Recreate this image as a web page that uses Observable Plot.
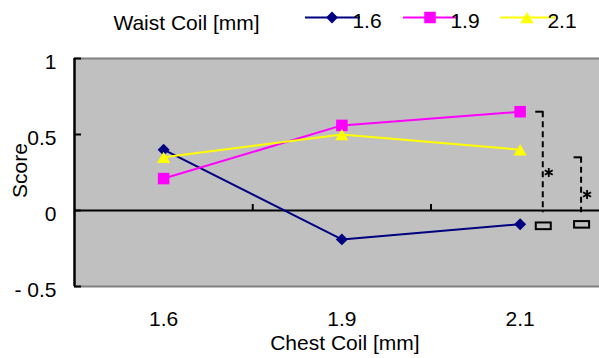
<!DOCTYPE html>
<html>
<head>
<meta charset="utf-8">
<script src="https://cdn.jsdelivr.net/npm/d3@7"></script>
<script src="https://cdn.jsdelivr.net/npm/@observablehq/plot@0.6"></script>
<style>
  body { margin: 0; background: #fff; }
  #chart svg { display: block; }
</style>
</head>
<body>
<div id="chart"></div>
<script>
// ---- data ----
const chestCoil = ["1.6", "1.9", "2.1"];          // x categories
const waistCoil = ["1.6", "1.9", "2.1"];          // series
const scoreWaist16 = [0.40, -0.19, -0.09];
const scoreWaist19 = [0.21, 0.56, 0.65];
const scoreWaist21 = [0.35, 0.50, 0.40];
const yTicks = [-0.5, 0, 0.5, 1];
const yTickLabels = ["- 0.5", "0", "0.5", "1"];
// significance brackets (x in category units, y in score units)
const sigX = [2.127, 2.342];
const sigTop = [0.65, 0.35];
const sigStarY = [0.25, 0.105];
const sigBoxTop = [-0.082, -0.073];
const sigBoxBottom = [-0.126, -0.116];

// ---- build table ----
const seriesValues = [scoreWaist16, scoreWaist19, scoreWaist21];
const rows = [];
waistCoil.forEach((s, si) => seriesValues[si].forEach((v, i) => rows.push({series: s, xi: i, score: v})));
const sigIdx = sigX.map((_, i) => i);

// ---- style ----
const FONT = "'Liberation Sans', Arial, sans-serif";
const FS = 21;
const colors = ["#000080", "#ff00ff", "#ffff00"];
const symbols = ["diamond2", "square", "triangle"];
const radii = [5.4, 6.5, 4.9];

const W = 599, H = 358, mL = 74, mT = 58, mB = 72;
const pxX = 178.25;
const xMax = -0.5 + (W - mL) / pxX;
const pxY = (H - mT - mB) / 1.5;

const seriesMarks = [];
waistCoil.forEach((s, si) => {
  const d = rows.filter(r => r.series === s);
  seriesMarks.push(Plot.line(d, {x: "xi", y: "score", stroke: colors[si], strokeWidth: 2}));
});
waistCoil.forEach((s, si) => {
  const d = rows.filter(r => r.series === s);
  seriesMarks.push(Plot.dot(d, {x: "xi", y: "score", symbol: symbols[si], fill: colors[si], stroke: "none", r: radii[si], dy: si === 2 ? 2 : 0}));
});

const plot = Plot.plot({
  width: W, height: H,
  marginLeft: mL, marginRight: 0, marginTop: mT, marginBottom: mB,
  x: {type: "linear", domain: [-0.5, xMax], axis: null},
  y: {domain: [-0.5, 1], axis: null},
  style: {fontFamily: FONT, fontSize: FS + "px", color: "#000", background: "#fff"},
  marks: [
    Plot.frame({fill: "#c0c0c0", stroke: "none"}),
    Plot.ruleY([1, -0.5], {stroke: "#808080", strokeWidth: 2}),
    Plot.ruleY([0], {stroke: "#000", strokeWidth: 2}),
    Plot.ruleX([0.5, 1.5], {y1: 0, y2: 6 / pxY, stroke: "#000", strokeWidth: 2}),
    Plot.ruleX([-0.5], {stroke: "#000", strokeWidth: 2.5}),
    Plot.ruleY(yTicks, {x1: -0.5, x2: -0.5 + 7 / pxX, stroke: "#000", strokeWidth: 2}),
    Plot.text(yTicks, {x: -0.5, y: d => d, text: (d, i) => yTickLabels[i], textAnchor: "end", dx: -18, dy: 4, fontSize: FS, fontFamily: FONT}),
    Plot.text([0, 1, 2], {x: d => d, y: -0.5, text: d => chestCoil[d], dy: 33, fontSize: FS, fontFamily: FONT}),
    Plot.text(["Chest Coil [mm]"], {x: 1, y: -0.5, dx: 3, dy: 57, fontSize: FS, fontFamily: FONT}),
    Plot.text(["Score"], {frameAnchor: "left", textAnchor: "middle", rotate: -90, dx: -54, dy: -2, fontSize: FS, fontFamily: FONT}),
    // significance annotations
    Plot.ruleX(sigIdx, {x: i => sigX[i], y1: i => sigTop[i], y2: -0.015, stroke: "#000", strokeWidth: 2, strokeDasharray: "6,4"}),
    Plot.ruleY(sigIdx, {y: i => sigTop[i], x1: i => sigX[i] - 7 / pxX, x2: i => sigX[i] + 1 / pxX, stroke: "#000", strokeWidth: 2}),
    Plot.dot(sigIdx, {x: i => sigX[i], y: i => sigStarY[i], symbol: "asterisk", r: 4.3, stroke: "#000", strokeWidth: 1.8, dx: 6}),
    Plot.rect(sigIdx, {x1: i => sigX[i] - 6.5 / pxX, x2: i => sigX[i] + 8.5 / pxX, y1: i => sigBoxTop[i], y2: i => sigBoxBottom[i], fill: "none", stroke: "#000", strokeWidth: 2}),
    ...seriesMarks
  ]
});

// ---- legend (inside the same SVG, above the plot area) ----
const svg = d3.select(plot);
const lg = svg.append("g").attr("font-family", FONT).attr("font-size", FS).attr("fill", "#000");
lg.append("text").attr("x", 186.5).attr("y", 23.5).attr("dy", "0.32em").attr("text-anchor", "middle").text("Waist Coil [mm]");
const legendX = [305, 403, 500];
const d3sym = {diamond2: d3.symbolDiamond2, square: d3.symbolSquare, triangle: d3.symbolTriangle};
waistCoil.forEach((s, i) => {
  const x0 = legendX[i], y0 = 17.5;
  lg.append("line").attr("x1", x0).attr("x2", x0 + 55).attr("y1", y0).attr("y2", y0)
    .attr("stroke", colors[i]).attr("stroke-width", 2);
  lg.append("path").attr("d", d3.symbol(d3sym[symbols[i]], Math.PI * radii[i] * radii[i])())
    .attr("transform", `translate(${x0 + 27},${y0 + (i === 2 ? 2 : 0)})`).attr("fill", colors[i]);
  lg.append("text").attr("x", x0 + 62).attr("y", 21.5).attr("dy", "0.32em").text(s);
});

document.getElementById("chart").appendChild(plot);
</script>
</body>
</html>
